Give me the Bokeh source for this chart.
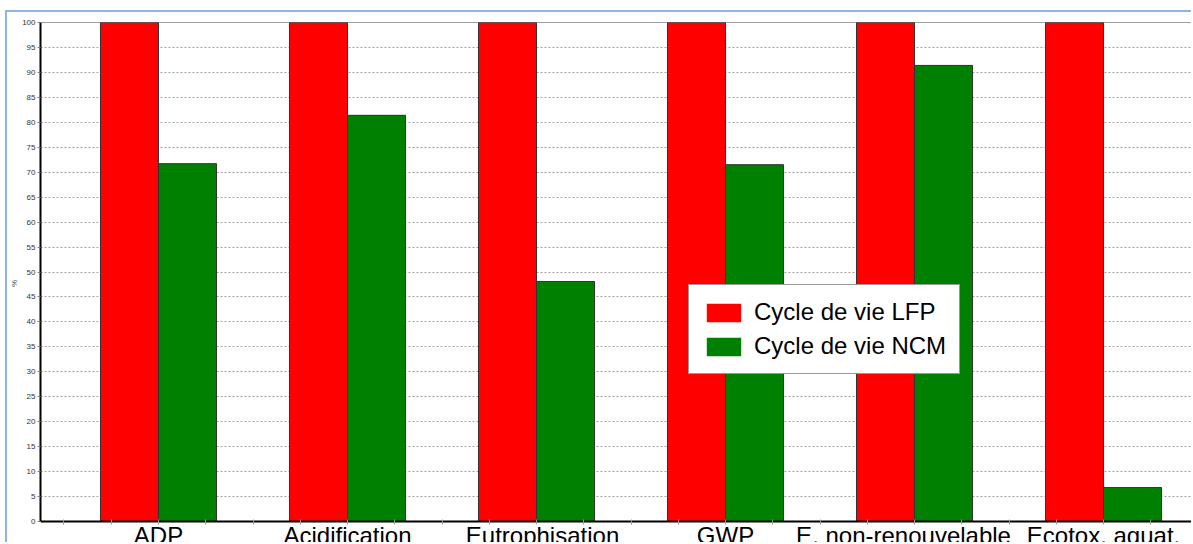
from bokeh.plotting import figure
from bokeh.models import (Range1d, FixedTicker, Legend, LegendItem, Span,
                          ColumnDataSource)
from bokeh.core.properties import value
from bokeh.embed import file_html
from bokeh.resources import INLINE

# ---- data ----
categories = ["ADP", "Acidification", "Eutrophisation", "GWP",
              "E. non-renouvelable", "Ecotox. aquat."]
lfp = [100, 100, 100, 100, 100, 100]
ncm = [71.7, 81.4, 48.1, 71.5, 91.4, 6.8]
series_names = ["Cycle de vie LFP", "Cycle de vie NCM"]
y_ticks = list(range(0, 101, 5))

# ---- layout helpers (not data) ----
bar_w = 0.307
label_nudge = [0, 0, 6, 0, -11, 0]  # px nudges of category labels

idx = list(range(len(categories)))
src = ColumnDataSource(dict(
    x=idx,
    x_lfp=[i - bar_w / 2 for i in idx],
    x_ncm=[i + bar_w / 2 for i in idx],
    lfp=lfp, ncm=ncm, cat=categories, nudge=label_nudge,
    base=[0] * len(idx)))

p = figure(width=1186, height=532, output_backend="svg", toolbar_location=None,
           x_range=Range1d(-0.6243, 5.476), y_range=Range1d(-4.609, 100),
           min_border_left=31, min_border_top=10, min_border_right=0,
           min_border_bottom=0)
p.styles = {"margin-left": "5px", "margin-top": "10px",
            "border-left": "2px solid #8eb4e3", "border-top": "2px solid #8eb4e3"}
p.outline_line_color = None
p.background_fill_color = "white"
p.border_fill_color = "white"

# grid
p.xgrid.visible = False
p.ygrid.ticker = FixedTicker(ticks=y_ticks)
p.ygrid.grid_line_color = "#a0a0a0"
p.ygrid.grid_line_dash = "2 2"

# legend swatches (hidden exactly behind the outlined bars)
d1 = p.vbar(x="x_lfp", top="lfp", width=bar_w, source=src,
            fill_color="#ff0000", line_color=None)
d2 = p.vbar(x="x_ncm", top="ncm", width=bar_w, source=src,
            fill_color="#008000", line_color=None)
r1 = p.vbar(x="x_lfp", top="lfp", width=bar_w, source=src,
            fill_color="#ff0000", line_color="#333333", line_width=1)
r2 = p.vbar(x="x_ncm", top="ncm", width=bar_w, source=src,
            fill_color="#008000", line_color="#333333", line_width=1)

p.add_layout(Span(location=100, dimension="width", line_color="#404040",
                  line_width=1))

# category labels (clipped at the bottom like the reference)
p.text(x="x", y="base", text="cat", source=src, x_offset="nudge", y_offset=0,
       text_align="center", text_baseline="top",
       text_font=value("Liberation Sans"), text_font_size="24px",
       text_color="black")

# y axis
p.yaxis.ticker = FixedTicker(ticks=y_ticks)
p.yaxis.bounds = (0, 100)
p.yaxis.major_label_text_font = "Liberation Sans"
p.yaxis.major_label_text_font_size = "8px"
p.yaxis.major_label_text_color = "#333333"
p.yaxis.major_label_standoff = 2
p.yaxis.major_tick_in = 0
p.yaxis.major_tick_out = 3
p.yaxis.major_tick_line_color = "#808080"
p.yaxis.minor_tick_line_color = None
p.yaxis.axis_line_color = "black"
p.yaxis.axis_line_width = 2
p.yaxis.axis_label = "%"
p.yaxis.axis_label_text_font = "Liberation Sans"
p.yaxis.axis_label_text_font_size = "8px"
p.yaxis.axis_label_text_font_style = "normal"
p.yaxis.axis_label_standoff = 0

# x axis at value 0 with quarter ticks only
p.xaxis.fixed_location = 0
p.xaxis.ticker = FixedTicker(ticks=[], minor_ticks=[k * 0.25 for k in range(-2, 23)])
p.xaxis.major_tick_line_color = None
p.xaxis.minor_tick_in = 2
p.xaxis.minor_tick_out = 3
p.xaxis.minor_tick_line_color = "#999999"
p.xaxis.axis_line_color = "black"
p.xaxis.axis_line_width = 2

legend = Legend(items=[LegendItem(label=series_names[0], renderers=[d1]),
                       LegendItem(label=series_names[1], renderers=[d2])],
                location=(648, 170))
legend.label_text_font = "Liberation Sans"
legend.label_text_font_size = "24px"
legend.label_text_color = "black"
legend.glyph_width = 43
legend.glyph_height = 23
legend.label_height = 23
legend.label_standoff = 9
legend.spacing = 6
legend.padding = 13
legend.margin = 0
legend.border_line_color = "#333333"
legend.border_line_width = 1
legend.background_fill_color = "white"
legend.background_fill_alpha = 1
p.add_layout(legend, "center")

open("out.html", "w").write(file_html(p, INLINE))
